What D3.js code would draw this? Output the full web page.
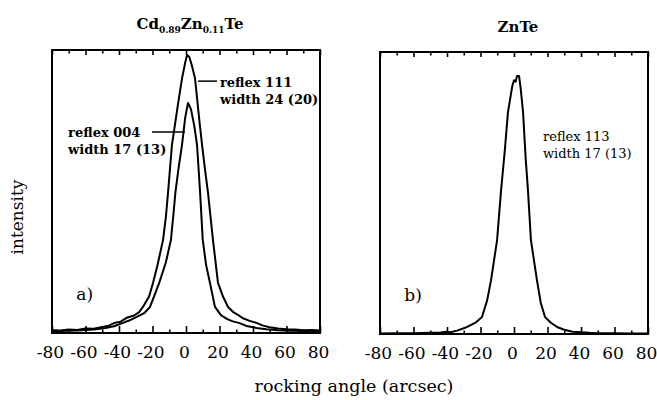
<!DOCTYPE html>
<html>
<head>
<meta charset="utf-8">
<script src="https://cdn.jsdelivr.net/npm/d3@7"></script>
<style>
  body { margin: 0; background: #fff; }
  text { font-family: "DejaVu Serif", serif; fill: #000; }
</style>
</head>
<body>
<div id="chart"></div>
<script>
const w = 657
const h = 400

// tick labels on both x axes
const xTicks = [-80, -60, -40, -20, 0, 20, 40, 60, 80]

// Cd0.89Zn0.11Te, reflex 111 (the wide one)
const angle111 = [-80, -75, -70, -65, -60, -55, -50, -46, -43, -39, -35, -31, -28, -25.7, -22, -19.7, -17, -13.7, -12, -10.7, -8.4, -5, -2.4, -0.5, 0.6, 2, 3.5, 5.4, 8, 9.6, 11.5, 13.1, 16.1, 19.1, 22, 25.1, 28, 31, 34, 38, 42.4, 46, 50, 55, 60, 65, 70, 75, 80]
const int111 = [0.010, 0.009, 0.012, 0.011, 0.016, 0.015, 0.021, 0.026, 0.035, 0.040, 0.055, 0.062, 0.074, 0.092, 0.13, 0.177, 0.24, 0.329, 0.41, 0.498, 0.664, 0.80, 0.899, 0.955, 0.982, 0.975, 0.945, 0.899, 0.75, 0.664, 0.57, 0.498, 0.329, 0.177, 0.13, 0.092, 0.075, 0.064, 0.052, 0.043, 0.035, 0.026, 0.020, 0.016, 0.013, 0.012, 0.010, 0.011, 0.009]

// Cd0.89Zn0.11Te, reflex 004 (the narrow one)
const angle004 = [-80, -75, -70, -65, -60, -55, -48, -43, -38, -34, -30, -25, -21.5, -19, -16, -12, -9, -7.5, -6.3, -4.5, -2.4, -0.5, 1.2, 3, 5, 6.6, 8.4, 10, 12, 14.3, 17.3, 21, 25, 28, 32, 36, 42, 48, 55, 62, 70, 75, 80]
const int004 = [0.006, 0.007, 0.008, 0.009, 0.011, 0.012, 0.018, 0.024, 0.035, 0.044, 0.055, 0.07, 0.092, 0.13, 0.177, 0.25, 0.329, 0.42, 0.498, 0.58, 0.664, 0.76, 0.813, 0.79, 0.73, 0.664, 0.498, 0.329, 0.24, 0.177, 0.092, 0.062, 0.048, 0.041, 0.035, 0.025, 0.018, 0.013, 0.010, 0.008, 0.007, 0.006, 0.005]

// ZnTe, reflex 113
const angle113 = [-80, -70, -60, -50, -44, -40, -38, -34, -28, -23, -19.1, -16, -13.7, -10.1, -7.8, -5.5, -3.6, -1, 0, 1, 1.8, 3, 4, 5.4, 7, 8.4, 10.1, 13.7, 16, 18.5, 22, 25.7, 30, 35, 40, 45, 50, 60, 70, 80]
const int113 = [0.002, 0.003, 0.003, 0.004, 0.005, 0.008, 0.006, 0.012, 0.025, 0.040, 0.06, 0.12, 0.191, 0.333, 0.504, 0.65, 0.787, 0.88, 0.90, 0.895, 0.915, 0.915, 0.87, 0.787, 0.62, 0.504, 0.333, 0.191, 0.11, 0.06, 0.04, 0.025, 0.015, 0.008, 0.006, 0.004, 0.003, 0.003, 0.002, 0.002]

const panels = [
    { x0: 52, x1: 320, top: 50, bottom: 333,
      title: [['Cd', 0], ['0.89', 1], ['Zn', 0], ['0.11', 1], ['Te', 0]], titleY: 29,
      tag: 'a)',
      curves: [[angle111, int111], [angle004, int004]],
      notes: [
          { lines: ['reflex 111', 'width 24 (20)'], a: 20.3, i: 0.869, lead: [7.2, 18.5, 0.89], bold: true },
          { lines: ['reflex 004', 'width 17 (13)'], a: -70.4, i: 0.693, lead: [-20.3, -0.6, 0.71], bold: true }
      ] },
    { x0: 380, x1: 648, top: 52, bottom: 334,
      title: [['ZnTe', 0]], titleY: 32,
      tag: 'b)',
      curves: [[angle113, int113]],
      notes: [
          { lines: ['reflex 113', 'width 17 (13)'], a: 17.3, i: 0.684, lead: null, bold: false }
      ] }
]

const svg = d3.select('#chart')
    .append('svg')
    .attr('width', w)
    .attr('height', h)

panels.forEach(p => {
    const x = d3.scaleLinear().domain([-80, 80]).range([p.x0, p.x1])
    const y = d3.scaleLinear().domain([0, 1]).range([p.bottom, p.top])
    const g = svg.append('g')

    const line = d3.line()
        .x(d => x(d[0]))
        .y(d => y(d[1]))

    p.curves.forEach(c => {
        g.append('path')
            .datum(c[0].map((a, i) => [a, c[1][i]]))
            .attr('d', line)
            .attr('fill', 'none')
            .attr('stroke', '#000')
            .attr('stroke-width', 2)
            .attr('stroke-linejoin', 'round')
    })

    // inward ticks, long at the 20s, short in between
    const minor = d3.range(-70, 80, 20)
    const addTicks = (axisFn, yPos, vals, size) => {
        g.append('g')
            .attr('transform', 'translate(0,' + yPos + ')')
            .call(axisFn(x).tickValues(vals).tickSize(size).tickFormat(''))
            .call(s => s.select('.domain').remove())
            .call(s => s.selectAll('line').attr('stroke-width', 1.6))
    }
    addTicks(d3.axisBottom, p.bottom, xTicks, -7)
    addTicks(d3.axisBottom, p.bottom, minor, -3.5)
    addTicks(d3.axisTop, p.top, xTicks, -5)
    addTicks(d3.axisTop, p.top, minor, -3.5)

    g.append('g')
        .attr('transform', 'translate(-2,' + p.bottom + ')')
        .call(d3.axisBottom(x).tickValues(xTicks).tickSize(0).tickPadding(13)
            .tickFormat(d => String(d)))
        .call(s => s.select('.domain').remove())
        .call(s => s.selectAll('text').attr('font-size', 17)
            .attr('font-family', '"DejaVu Serif Condensed", "DejaVu Serif", serif'))

    g.append('rect')
        .attr('x', p.x0)
        .attr('y', p.top)
        .attr('width', p.x1 - p.x0)
        .attr('height', p.bottom - p.top)
        .attr('fill', 'none')
        .attr('stroke', '#000')
        .attr('stroke-width', 2)

    const t = g.append('text')
        .attr('x', (p.x0 + p.x1) / 2 + 4)
        .attr('y', p.titleY)
        .attr('text-anchor', 'middle')
        .attr('font-size', 15)
        .attr('font-weight', 'bold')
    let low = 0
    p.title.forEach(part => {
        const dy = part[1] - low
        t.append('tspan')
            .attr('dy', dy * 4)
            .attr('font-size', part[1] ? 9 : 15)
            .text(part[0])
        low = part[1]
    })

    g.append('text')
        .attr('x', x(-65.5))
        .attr('y', y(0.117))
        .attr('font-size', 17)
        .text(p.tag)

    p.notes.forEach(n => {
        n.lines.forEach((s, k) => {
            g.append('text')
                .attr('x', x(n.a))
                .attr('y', y(n.i) + k * 17)
                .attr('font-size', 13)
                .attr('font-weight', n.bold ? 'bold' : 'normal')
                .text(s)
        })
        if (n.lead) {
            g.append('line')
                .attr('x1', x(n.lead[0]))
                .attr('x2', x(n.lead[1]))
                .attr('y1', y(n.lead[2]))
                .attr('y2', y(n.lead[2]))
                .attr('stroke', '#000')
                .attr('stroke-width', 1.5)
        }
    })
})

svg.append('text')
    .attr('transform', 'translate(23,217) rotate(-90)')
    .attr('text-anchor', 'middle')
    .attr('font-size', 17)
    .text('intensity')

svg.append('text')
    .attr('x', 354)
    .attr('y', 392)
    .attr('text-anchor', 'middle')
    .attr('font-size', 17.5)
    .text('rocking angle (arcsec)')
</script>
</body>
</html>
